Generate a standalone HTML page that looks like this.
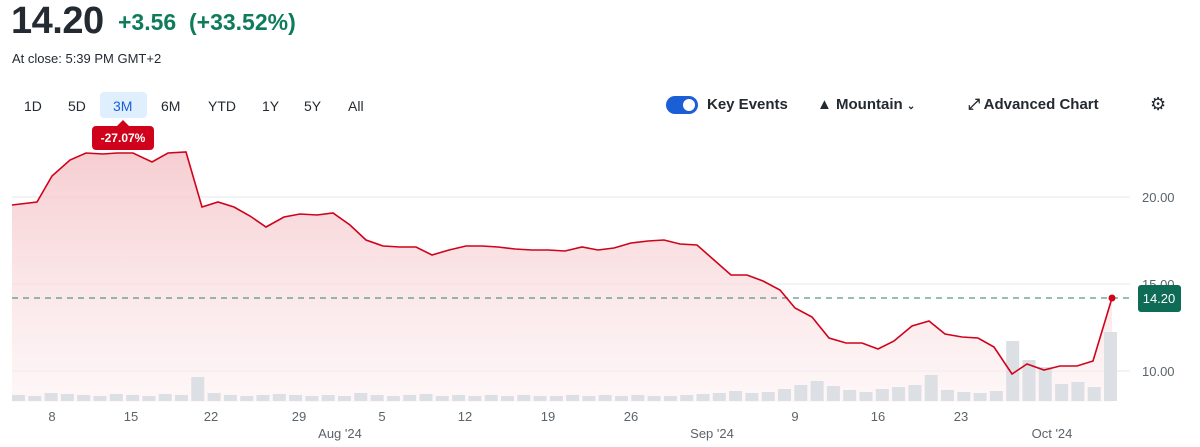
<!DOCTYPE html>
<html><head><meta charset="utf-8"><style>
body{margin:0;width:1200px;height:447px;overflow:hidden;background:#fff;font-family:"Liberation Sans",sans-serif;color:#232a31;position:relative}
.a{position:absolute;white-space:nowrap}
.tab{position:absolute;top:95px;font-size:14px;height:24px;line-height:20px;text-align:center}
</style></head><body>
<div class="a" style="left:11px;top:0px;font-size:38px;font-weight:bold;letter-spacing:-0.5px">14.20</div>
<div class="a" style="left:118px;top:9px;font-size:23px;font-weight:bold;color:#0e7c5b">+3.56&nbsp; (+33.52%)</div>
<div class="a" style="left:12px;top:51px;font-size:13px">At close: 5:39 PM GMT+2</div>
<div class="tab" style="left:24px;top:96px">1D</div>
<div class="tab" style="left:68px;top:96px">5D</div>
<div class="a" style="left:100px;top:92px;width:47px;height:26px;background:#e0effe;border-radius:4px"></div>
<div class="tab" style="left:113px;top:96px;color:#1a5fd6">3M</div>
<div class="tab" style="left:161px;top:96px">6M</div>
<div class="tab" style="left:208px;top:96px">YTD</div>
<div class="tab" style="left:262px;top:96px">1Y</div>
<div class="tab" style="left:304px;top:96px">5Y</div>
<div class="tab" style="left:348px;top:96px">All</div>
<div class="a" style="left:666px;top:96px;width:32px;height:18px;background:#1a5fd6;border-radius:9px"><div style="position:absolute;right:3px;top:3px;width:12px;height:12px;border-radius:6px;background:#fff"></div></div>
<div class="a" style="left:707px;top:96px;font-size:15px;font-weight:bold">Key Events</div>
<div class="a" style="left:817px;top:96px;font-size:15px;font-weight:bold">▲ Mountain <span style="font-size:10px">⌄</span></div>
<div class="a" style="left:968px;top:96px;font-size:15px;font-weight:bold">⤢ Advanced Chart</div>
<div class="a" style="left:1150px;top:94px;font-size:18px">⚙</div>
<div class="a" style="left:92px;top:126px;width:62px;height:24px;background:#d0021b;border-radius:4px;color:#fff;font-size:12px;font-weight:bold;text-align:center;line-height:24px">-27.07%</div>
<div class="a" style="left:117px;top:120px;width:0;height:0;border-left:6px solid transparent;border-right:6px solid transparent;border-bottom:6px solid #d0021b"></div>
<svg class="a" style="left:0;top:0" width="1200" height="447">
<defs><linearGradient id="g" x1="0" y1="0" x2="0" y2="1"><stop offset="0" stop-color="#f5c8cc" stop-opacity="0.9"/><stop offset="1" stop-color="#fdf1f2" stop-opacity="0.6"/></linearGradient></defs>
<g stroke="#e6e8ea" stroke-width="1"><line x1="12" y1="197" x2="1130" y2="197"/><line x1="12" y1="284" x2="1130" y2="284"/><line x1="12" y1="371" x2="1130" y2="371"/></g>
<polygon fill="url(#g)" points="12,402 12,205 37,202 52,176 70,160 86,153 103,154 117,153 133,153 152,162 168,153 186,152 202,207 218,202 234,207 250,216 266,227 284,217 300,214 317,215 333,213 350,225 366,240 383,246 400,247 416,247 432,255 449,250 466,246 482,246 498,247 515,249 532,250 548,250 565,251 582,247 598,250 614,248 631,243 648,241 664,240 680,244 697,245 714,260 731,275 747,275 763,281 780,290 795,308 812,317 829,338 846,343 862,343 878,349 894,341 912,326 929,321 945,334 962,337 978,338 994,347 1012,374 1027,364 1044,370 1060,366 1077,366 1093,361 1112,298 1112,402"/>
<g fill="#dcdfe3" id="v"></g>
<line x1="12" y1="298" x2="1130" y2="298" stroke="#2f7d6e" stroke-dasharray="6,5" stroke-width="1"/>
<polyline fill="none" stroke="#d0021b" stroke-width="1.6" points="12,205 37,202 52,176 70,160 86,153 103,154 117,153 133,153 152,162 168,153 186,152 202,207 218,202 234,207 250,216 266,227 284,217 300,214 317,215 333,213 350,225 366,240 383,246 400,247 416,247 432,255 449,250 466,246 482,246 498,247 515,249 532,250 548,250 565,251 582,247 598,250 614,248 631,243 648,241 664,240 680,244 697,245 714,260 731,275 747,275 763,281 780,290 795,308 812,317 829,338 846,343 862,343 878,349 894,341 912,326 929,321 945,334 962,337 978,338 994,347 1012,374 1027,364 1044,370 1060,366 1077,366 1093,361 1112,298"/>
<circle cx="1112" cy="298" r="3.5" fill="#d0021b"/>
<g font-size="13" fill="#5b636a" font-family="Liberation Sans,sans-serif">
<text x="1142" y="202">20.00</text><text x="1142" y="289">15.00</text><text x="1142" y="376">10.00</text>
<g text-anchor="middle"><text x="52" y="421">8</text><text x="131" y="421">15</text><text x="211" y="421">22</text><text x="299" y="421">29</text><text x="382" y="421">5</text><text x="465" y="421">12</text><text x="548" y="421">19</text><text x="631" y="421">26</text><text x="795" y="421">9</text><text x="878" y="421">16</text><text x="961" y="421">23</text>
<text x="340" y="438">Aug '24</text><text x="712" y="438">Sep '24</text><text x="1052" y="438">Oct '24</text></g></g>
<rect x="1138" y="285" width="43" height="27" rx="3" fill="#0e6b55"/>
<text x="1159" y="303" text-anchor="middle" fill="#fff" font-size="13" font-family="Liberation Sans,sans-serif">14.20</text>
</svg>
<script>
var h=[6,5,8,7,6,5,7,6,5,7,6,24,8,6,5,6,7,6,5,6,5,8,6,5,6,7,5,6,5,6,5,6,5,5,6,5,6,5,6,5,5,6,7,8,10,8,9,12,16,20,15,11,9,12,14,16,26,11,9,8,10,60,41,34,17,19,14,102,69];
var g=document.getElementById('v'),s='';
var n=68;for(var i=0;i<n;i++){var x=12+i*(1092/67);var hh=h[i]||6;if(i==n-1)hh=69;s+='<rect x="'+x.toFixed(1)+'" y="'+(401-hh)+'" width="13" height="'+hh+'"/>';}
g.innerHTML=s;
</script>
</body></html>
